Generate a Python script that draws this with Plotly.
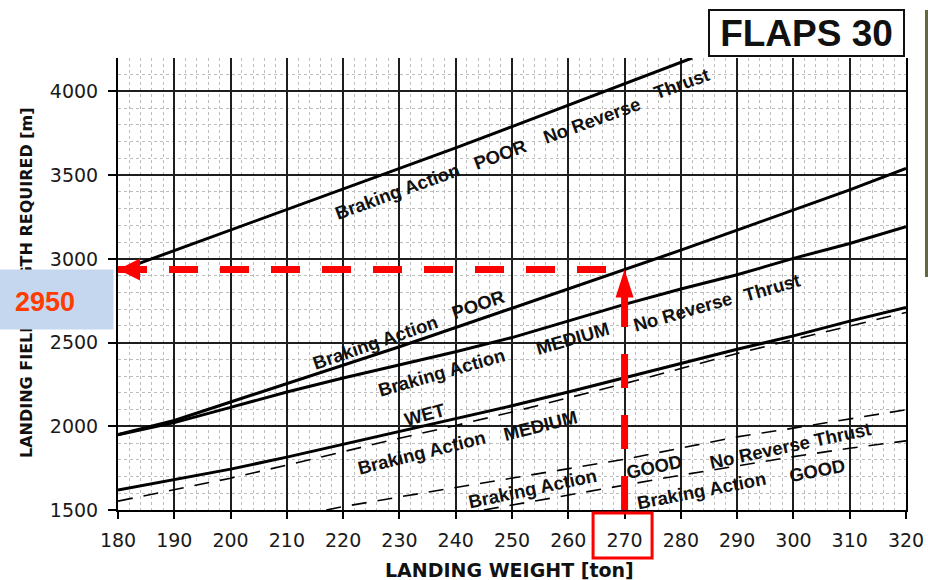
import numpy as np
import plotly.graph_objects as go

# ---------------- data ----------------
W_FULL = [180, 190, 200, 210, 220, 230, 240, 250, 260, 270, 280, 290, 300, 310, 320]
POOR_NRT_W = [180, 190, 200, 210, 220, 230, 240, 250, 260, 270, 280, 282]
POOR_NRT = [2927, 3050, 3170, 3293, 3416, 3540, 3663, 3790, 3918, 4047, 4175, 4200]
POOR = [1950, 2035, 2145, 2255, 2365, 2475, 2590, 2705, 2820, 2937, 3052, 3172, 3292, 3412, 3540]
MED_NRT = [1950, 2022, 2113, 2205, 2288, 2365, 2445, 2530, 2628, 2728, 2820, 2905, 3003, 3092, 3192]
WET = [1620, 1680, 1744, 1816, 1893, 1972, 2047, 2123, 2205, 2290, 2375, 2460, 2540, 2628, 2710]
MED = [1553, 1620, 1690, 1768, 1849, 1929, 2005, 2085, 2170, 2255, 2345, 2435, 2518, 2600, 2680]
GOOD_NRT_W = [217, 220, 230, 240, 250, 260, 270, 280, 290, 300, 310, 320]
GOOD_NRT = [1500, 1520, 1578, 1634, 1690, 1745, 1803, 1870, 1937, 1989, 2043, 2099]
GOOD_W = [245, 250, 260, 270, 280, 290, 300, 310, 320]
GOOD = [1500, 1530, 1592, 1650, 1708, 1763, 1819, 1869, 1913]

X_TICKS = list(range(180, 321, 10))
Y_TICKS = [1500, 2000, 2500, 3000, 3500, 4000]
X_RANGE = [180, 320]
Y_RANGE = [1500, 4200]

READ_WEIGHT = 270
READ_LENGTH_LABEL = "2950"
TITLE = "FLAPS 30"
X_TITLE = "LANDING WEIGHT [ton]"
Y_TITLE = "LANDING FIELD LENGTH REQUIRED [m]"

# curve labels: text, weight, length, angle
LABELS = [
    ("Braking Action", 229.6, 3400, -20),
    ("POOR", 247.9, 3621, -20),
    ("No Reverse", 264.2, 3824, -20),
    ("Thrust", 280.2, 4045, -20),
    ("Braking Action", 225.7, 2498, -19),
    ("POOR", 244.0, 2725, -19),
    ("Braking Action", 237.4, 2324, -16),
    ("MEDIUM", 260.7, 2527, -16),
    ("No Reverse", 280.4, 2683, -16),
    ("Thrust", 296.2, 2832, -16),
    ("WET", 234.5, 2073, -15),
    ("Braking Action", 234.0, 1846, -14),
    ("MEDIUM", 255.1, 2002, -14),
    ("Braking Action", 253.7, 1631, -12),
    ("GOOD", 275.4, 1757, -12),
    ("No Reverse Thrust", 299.4, 1888, -12),
    ("Braking Action", 283.7, 1619, -11),
    ("GOOD", 304.2, 1733, -11),
]

# ---------------- layout geometry ----------------
W, H = 928, 580
ML, MR, MT, MB = 118, 22, 58, 70
PW, PH = W - ML - MR, H - MT - MB


def px_to_paper_x(px):
    return (px - ML) / PW


def py_to_paper_y(py):
    return (H - MB - py) / PH


fig = go.Figure()

solid = dict(color="black", width=3)
dashed = dict(color="black", width=1.6, dash="15px,11px")

fig.add_trace(go.Scatter(x=POOR_NRT_W, y=POOR_NRT, mode="lines", line=solid))
fig.add_trace(go.Scatter(x=W_FULL, y=POOR, mode="lines", line=solid))
fig.add_trace(go.Scatter(x=W_FULL, y=MED_NRT, mode="lines", line=solid))
fig.add_trace(go.Scatter(x=W_FULL, y=WET, mode="lines", line=solid))
fig.add_trace(go.Scatter(x=W_FULL, y=MED, mode="lines", line=dashed))
fig.add_trace(go.Scatter(x=GOOD_NRT_W, y=GOOD_NRT, mode="lines", line=dashed))
fig.add_trace(go.Scatter(x=GOOD_W, y=GOOD, mode="lines", line=dashed))

# read-off arrows
level = float(np.interp(READ_WEIGHT, W_FULL, POOR))
RED = "#ff0000"
fig.add_trace(go.Scatter(x=[READ_WEIGHT, READ_WEIGHT], y=[Y_RANGE[0], level - 90],
                         mode="lines", line=dict(color=RED, width=7, dash="34px,27px")))
fig.add_trace(go.Scatter(x=[X_RANGE[0], READ_WEIGHT], y=[level, level],
                         mode="lines", line=dict(color=RED, width=7, dash="29px,22px")))

shapes = [
    dict(type="path", xref="x", yref="y", xsizemode="pixel", ysizemode="pixel",
         xanchor=READ_WEIGHT, yanchor=level, path="M0,0 L-9,-28 L9,-28 Z",
         fillcolor=RED, line=dict(width=0), layer="above"),
    dict(type="path", xref="x", yref="y", xsizemode="pixel", ysizemode="pixel",
         xanchor=X_RANGE[0], yanchor=level, path="M0,0 L22,11 L22,-11 Z",
         fillcolor=RED, line=dict(width=0), layer="above"),
]
# red box around the read weight tick label
cx = (READ_WEIGHT - X_RANGE[0]) / (X_RANGE[1] - X_RANGE[0])
half = 29.5 / PW
shapes.append(dict(type="rect", xref="paper", yref="paper",
                   x0=cx - half - 2 / PW, x1=cx + half - 2 / PW,
                   y0=py_to_paper_y(558), y1=py_to_paper_y(513),
                   line=dict(color=RED, width=3), fillcolor="rgba(0,0,0,0)"))
# dark strip at right edge (photo artifact)
shapes.append(dict(type="rect", xref="paper", yref="paper",
                   x0=px_to_paper_x(925), x1=px_to_paper_x(930),
                   y0=py_to_paper_y(277), y1=py_to_paper_y(10),
                   line=dict(width=0), fillcolor="#66663f"))

annotations = []
LABEL_FONT = dict(family="Liberation Sans, Arial", size=18.5, color="#111111", weight="bold")
for txt, x, y, ang in LABELS:
    annotations.append(dict(text=txt, x=x, y=y, xref="x", yref="y", showarrow=False,
                            textangle=ang, font=LABEL_FONT, xanchor="center", yanchor="middle"))

C = dict(xanchor="center", yanchor="middle", showarrow=False, xref="paper", yref="paper")
# axis titles
annotations.append(dict(text=Y_TITLE, x=px_to_paper_x(26), y=py_to_paper_y(283),
                        textangle=-90,
                        font=dict(family="DejaVu Sans", size=16, color="#111111", weight="bold"), **C))
annotations.append(dict(text=X_TITLE, x=px_to_paper_x(509), y=py_to_paper_y(570),
                        font=dict(family="DejaVu Sans", size=19, color="#111111", weight="bold"), **C))
# title box
annotations.append(dict(text=TITLE, x=px_to_paper_x(806.5), y=py_to_paper_y(33),
                        width=193, height=44, borderpad=0, bordercolor="#111111", borderwidth=2,
                        bgcolor="white",
                        font=dict(family="Liberation Sans, Arial", size=37, color="#111111", weight="bold"),
                        **C))
# blue box with read value
annotations.append(dict(text="\u00a0", x=px_to_paper_x(56.25), y=py_to_paper_y(299.5),
                        width=112.5, height=59, borderpad=0, bgcolor="#c5d7ee",
                        font=dict(size=10), **C))
annotations.append(dict(text=READ_LENGTH_LABEL, x=px_to_paper_x(45), y=py_to_paper_y(302),
                        font=dict(family="Liberation Sans, Arial", size=27, color="#ff3c00", weight="bold"),
                        **C))

GRID_MAJOR = "#1e1e1e"
GRID_MINOR = "#bdbdbd"
fig.update_layout(
    width=W, height=H,
    margin=dict(l=ML, r=MR, t=MT, b=MB, autoexpand=False),
    paper_bgcolor="white", plot_bgcolor="white",
    showlegend=False,
    shapes=shapes, annotations=annotations,
    xaxis=dict(range=X_RANGE, tickvals=X_TICKS, ticks="outside", ticklen=7, tickwidth=2,
               tickcolor="black", showline=True, linecolor="black", linewidth=2,
               showgrid=True, gridcolor=GRID_MAJOR, gridwidth=1.8, zeroline=False,
               ticklabelstandoff=5,
               tickfont=dict(family="DejaVu Sans", size=19, color="#1a1a1a"),
               minor=dict(dtick=2, tick0=180, showgrid=True, gridcolor=GRID_MINOR,
                          griddash="dot", gridwidth=1)),
    yaxis=dict(range=Y_RANGE, tickvals=Y_TICKS, ticks="outside", ticklen=8, tickwidth=2,
               tickcolor="black", showline=True, linecolor="black", linewidth=2, mirror=True,
               showgrid=True, gridcolor=GRID_MAJOR, gridwidth=1.5, zeroline=False,
               ticklabelstandoff=6,
               tickfont=dict(family="DejaVu Sans", size=19, color="#1a1a1a"),
               minor=dict(dtick=100, tick0=1500, showgrid=True, gridcolor=GRID_MINOR,
                          griddash="dot", gridwidth=1)),
)

fig.write_html("out.html", config={"displayModeBar": False},
               post_script=["document.body.style.margin='0px';"])
